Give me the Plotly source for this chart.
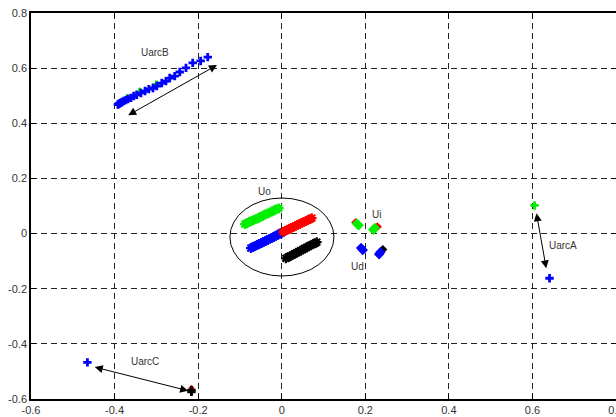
import plotly.graph_objects as go

# ---- data ----
tick_vals = [-0.6, -0.4, -0.2, 0, 0.2, 0.4, 0.6, 0.8]
tick_text = ["-0.6", "-0.4", "-0.2", "0", "0.2", "0.4", "0.6", "0.8"]

uarcB_x = [-0.177, -0.194, -0.213, -0.229, -0.244, -0.256, -0.268, -0.277, -0.287, -0.299,
           -0.308, -0.318, -0.327, -0.337, -0.347, -0.354, -0.361, -0.368, -0.373, -0.378,
           -0.382, -0.385, -0.388, -0.390, -0.392]
uarcB_y = [0.640, 0.626, 0.619, 0.601, 0.586, 0.571, 0.564, 0.553, 0.546, 0.535,
           0.528, 0.524, 0.517, 0.510, 0.503, 0.499, 0.492, 0.488, 0.484, 0.481,
           0.477, 0.474, 0.472, 0.470, 0.468]
uarcB_green_x = [-0.300, -0.340, -0.370, -0.385]
uarcB_green_y = [0.540, 0.514, 0.490, 0.476]

uo_green_x = [-0.088, -0.083, -0.078, -0.072, -0.067, -0.061, -0.056, -0.050, -0.045, -0.039,
              -0.034, -0.028, -0.023, -0.017, -0.012, -0.007]
uo_green_y = [0.034, 0.038, 0.042, 0.046, 0.049, 0.053, 0.057, 0.061, 0.065, 0.069,
              0.073, 0.077, 0.080, 0.085, 0.088, 0.092]
uo_red_x = [0.003, 0.008, 0.013, 0.018, 0.023, 0.028, 0.033, 0.038, 0.043, 0.048,
            0.053, 0.058, 0.063, 0.068, 0.072]
uo_red_y = [0.006, 0.010, 0.013, 0.017, 0.021, 0.024, 0.028, 0.031, 0.035, 0.039,
            0.042, 0.046, 0.049, 0.053, 0.056]
uo_blue_x = [-0.074, -0.069, -0.064, -0.059, -0.054, -0.049, -0.044, -0.039, -0.034, -0.029,
             -0.024, -0.019, -0.014, -0.009, -0.004, 0.000]
uo_blue_y = [-0.053, -0.049, -0.045, -0.042, -0.038, -0.034, -0.031, -0.027, -0.023, -0.019,
             -0.016, -0.012, -0.008, -0.004, 0.000, 0.003]
uo_black_x = [0.010, 0.015, 0.020, 0.025, 0.030, 0.035, 0.040, 0.045, 0.050, 0.055,
              0.060, 0.065, 0.070, 0.075, 0.080, 0.084]
uo_black_y = [-0.090, -0.086, -0.082, -0.078, -0.074, -0.070, -0.066, -0.062, -0.058, -0.054,
              -0.050, -0.046, -0.042, -0.039, -0.035, -0.031]

# Ui / Ud groups
uid_red_x = [0.177, 0.229]
uid_red_y = [0.040, 0.025]
uid_green_x = [0.180, 0.184, 0.219, 0.223]
uid_green_y = [0.036, 0.030, 0.014, 0.020]
uid_blue_x = [0.190, 0.194, 0.233, 0.236]
uid_blue_y = [-0.052, -0.060, -0.075, -0.068]
uid_black_x = [0.242]
uid_black_y = [-0.058]

# UarcA
uarcA_green_x = [0.605]
uarcA_green_y = [0.102]
uarcA_blue_x = [0.641]
uarcA_blue_y = [-0.162]

# UarcC
uarcC_blue_x = [-0.465]
uarcC_blue_y = [-0.467]
uarcC_red_x = [-0.216]
uarcC_red_y = [-0.560]
uarcC_black_x = [-0.216, -0.216]
uarcC_black_y = [-0.568, -0.574]

fig = go.Figure()

def add(x, y, color, symbol="cross", size=7, line=None):
    marker = dict(color=color, symbol=symbol, size=size)
    if line is not None:
        marker["line"] = dict(color=color, width=line)
    fig.add_trace(go.Scatter(x=x, y=y, mode="markers", marker=marker,
                             showlegend=False, hoverinfo="skip"))

add(uarcB_green_x, uarcB_green_y, "#00ee00")
add(uarcB_x, uarcB_y, "#0000ff")

add(uo_green_x, uo_green_y, "#00ee00", symbol="asterisk-open", size=8, line=2.2)
add(uo_blue_x, uo_blue_y, "#0000ff", symbol="asterisk-open", size=8, line=2.2)
add(uo_red_x, uo_red_y, "#ff0000", symbol="asterisk-open", size=8, line=2.2)
add(uo_black_x, uo_black_y, "#000000", symbol="asterisk-open", size=8, line=2.2)

add(uid_red_x, uid_red_y, "#ff0000", symbol="diamond", size=7)
add(uid_green_x, uid_green_y, "#00ee00", symbol="diamond", size=8)
add(uid_black_x, uid_black_y, "#000000", symbol="diamond", size=7)
add(uid_blue_x, uid_blue_y, "#0000ff", symbol="diamond", size=8)

add(uarcA_green_x, uarcA_green_y, "#00ee00")
add(uarcA_blue_x, uarcA_blue_y, "#0000ff")

add(uarcC_blue_x, uarcC_blue_y, "#0000ff")
add(uarcC_red_x, uarcC_red_y, "#ff0000", symbol="diamond", size=5)
add(uarcC_black_x, uarcC_black_y, "#000000")

# ellipse around Uo
fig.add_shape(type="circle", xref="x", yref="y", x0=-0.124, x1=0.125, y0=-0.154, y1=0.129,
              line=dict(color="black", width=1))

tick_font = dict(family="Liberation Sans, Arial, sans-serif", size=11, color="#333333")
label_font = dict(family="Liberation Sans, Arial, sans-serif", size=10, color="#333333")
labels = [("UarcB", -0.304, 0.656), ("Uo", -0.041, 0.152), ("Ui", 0.226, 0.070),
          ("Ud", 0.182, -0.119), ("UarcA", 0.673, -0.042), ("UarcC", -0.326, -0.465)]
for t, lx, ly in labels:
    fig.add_annotation(x=lx, y=ly, text=t, showarrow=False, font=label_font)

arrows = [(-0.371, 0.426, -0.155, 0.611),
          (0.609, 0.079, 0.633, -0.126),
          (-0.451, -0.483, -0.224, -0.570)]
for x0, y0, x1, y1 in arrows:
    fig.add_annotation(x=x1, y=y1, ax=x0, ay=y0, xref="x", yref="y", axref="x", ayref="y",
                       text="", showarrow=True, arrowside="end+start",
                       arrowhead=2, startarrowhead=2, arrowsize=1.6, startarrowsize=1.6,
                       arrowwidth=1, arrowcolor="black")

axis_common = dict(
    tickvals=tick_vals, ticktext=tick_text,
    showline=True, linecolor="black", linewidth=1.5, mirror="ticks",
    ticks="inside", ticklen=5, tickcolor="black", tickwidth=1,
    showgrid=True, gridcolor="#222222", gridwidth=1, griddash="6px,4px",
    zeroline=False, automargin=False, ticklabeloverflow="allow",
    tickfont=tick_font,
)
fig.update_xaxes(range=[-0.6, 0.8], **axis_common)
fig.update_yaxes(range=[-0.6, 0.8], **axis_common)

fig.update_layout(
    width=616, height=417,
    margin=dict(l=31, r=0, t=13, b=18),
    paper_bgcolor="white", plot_bgcolor="white",
    showlegend=False,
)

# remove the default page margin so the figure sits at the window's top-left corner
fig.write_html("out.html",
               config={"displayModeBar": False},
               post_script="document.body.style.margin='0';document.body.style.overflow='hidden';")
